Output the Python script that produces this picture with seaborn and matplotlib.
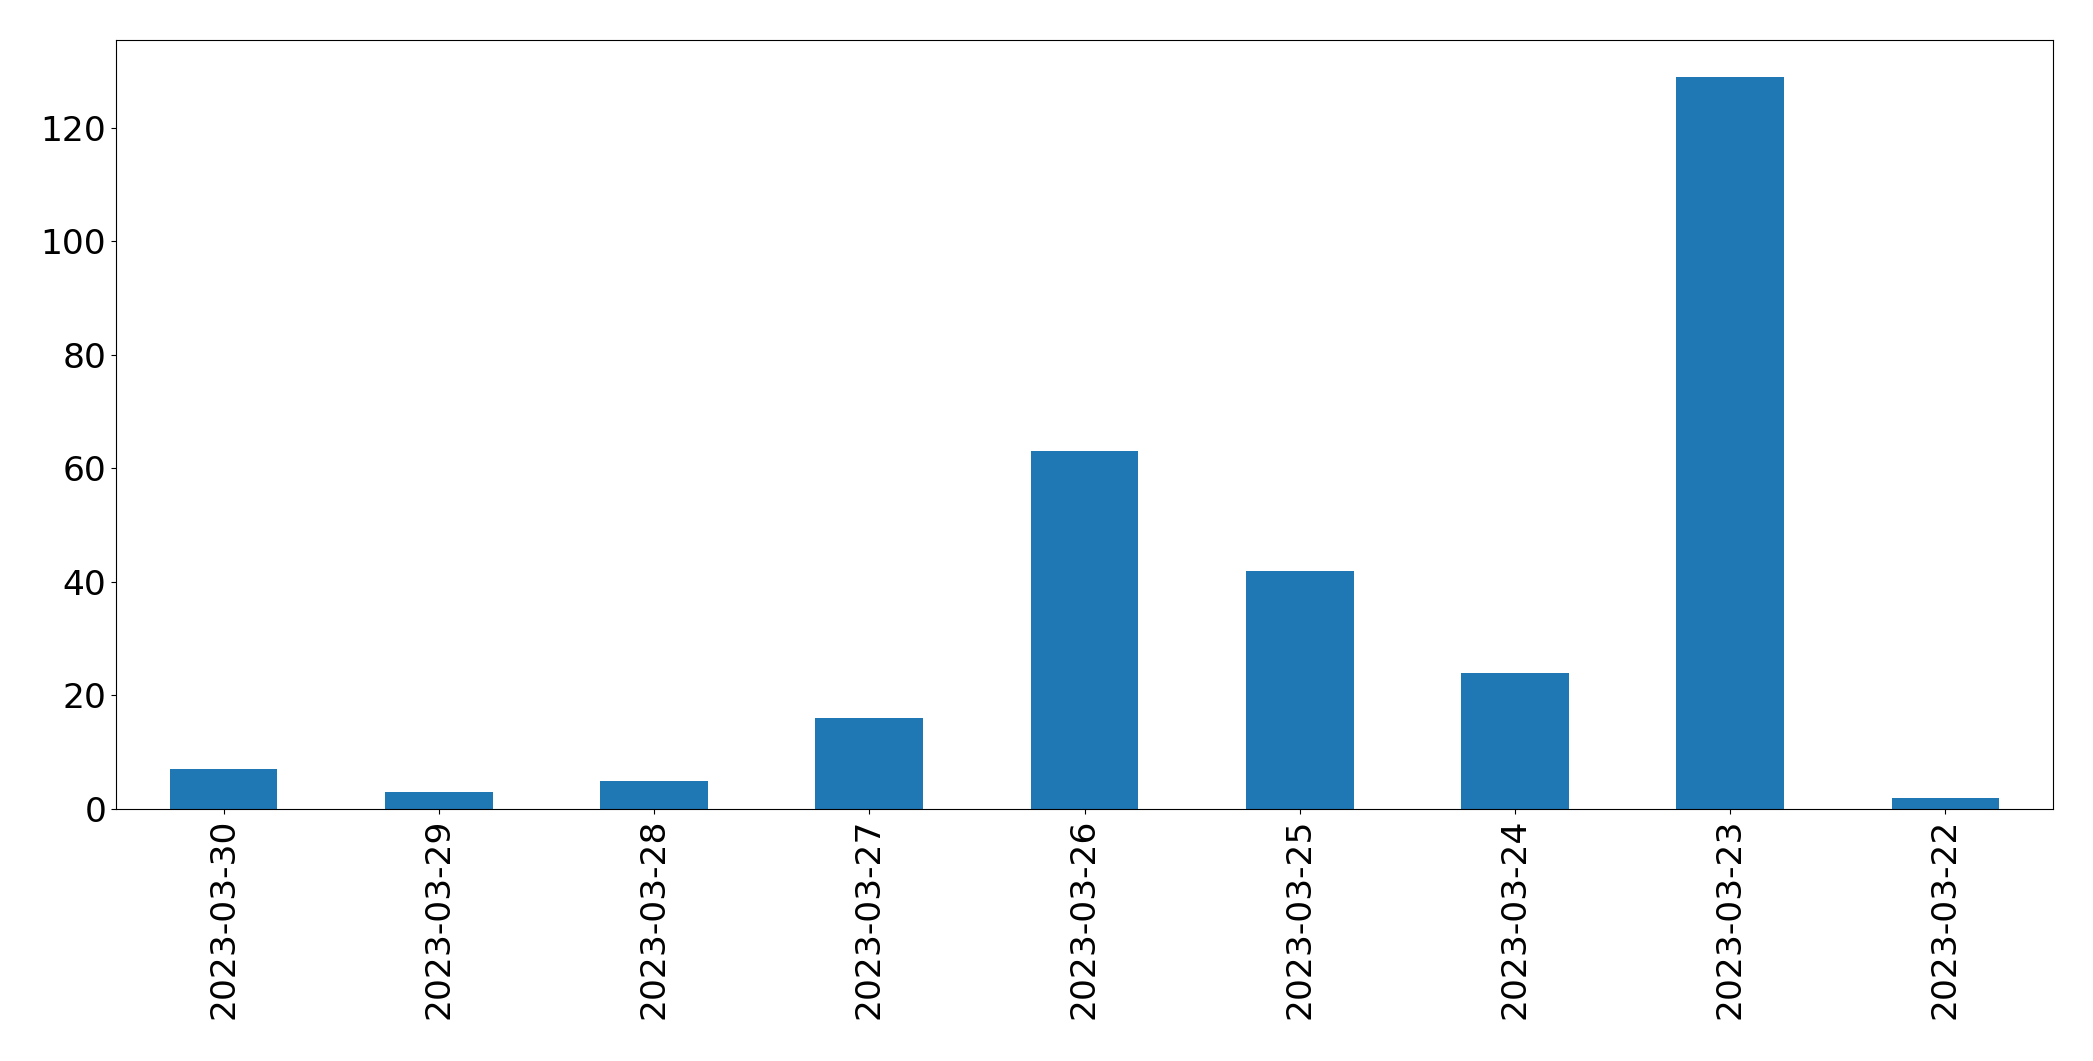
import matplotlib
matplotlib.use("Agg")
import matplotlib.pyplot as plt
import seaborn as sns
import pandas as pd

dates = ["2023-03-30", "2023-03-29", "2023-03-28", "2023-03-27", "2023-03-26",
         "2023-03-25", "2023-03-24", "2023-03-23", "2023-03-22"]
counts = [7, 3, 5, 16, 63, 42, 24, 129, 2]

df = pd.DataFrame({"date": dates, "count": counts})

fig = plt.figure(figsize=(20.93, 10.61), dpi=100)
ax = fig.add_axes([116 / 2093, 252 / 1061, (2053 - 116) / 2093, (1021 - 252) / 1061])
sns.barplot(data=df, x="date", y="count", order=dates, color="#1f77b4",
            saturation=1, width=0.5, ax=ax)
ax.set_xlim(-0.5, len(dates) - 0.5)
ax.set_ylim(0, max(counts) * 1.05)
ax.set_xlabel("")
ax.set_ylabel("")
for s in ax.spines.values():
    s.set_color("black")
ax.tick_params(axis="both", labelsize=24.8, colors="black")
for lbl in ax.get_xticklabels():
    lbl.set_rotation(90)
fig.savefig("out.png", dpi=100)
